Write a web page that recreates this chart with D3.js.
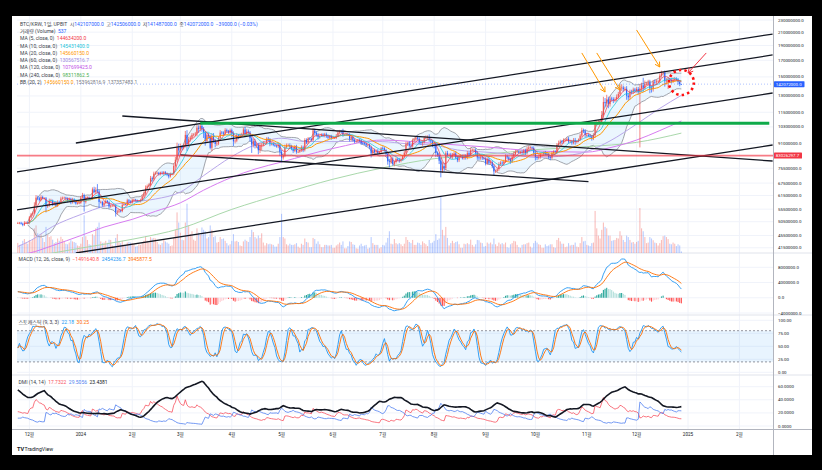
<!DOCTYPE html>
<html>
<head>
<meta charset="utf-8">
<script src="https://cdnjs.cloudflare.com/ajax/libs/d3/7.8.5/d3.min.js"></script>
<style>
  body { margin: 0; background: #000; }
  svg { display: block; font-family: Roboto, "Noto Sans CJK KR", sans-serif; }
</style>
</head>
<body>
<div id="chart"></div>
<script>
// daily closes, million KRW (UPBIT BTC/KRW), one array per month
var c2311 = [50.0, 50.1, 49.7, 49.3, 50.1, 50.2, 50.0];
var c2312 = [52.2, 53.3, 54.0, 57.0, 60.5, 60.2, 59.5, 60.8, 60.2, 60.2, 56.7, 57.1, 59.0, 59.1, 57.6, 58.2, 56.9, 58.6, 58.2, 60.1, 60.4, 60.5, 60.1, 59.1, 60.0, 58.4, 59.7, 58.6, 57.9, 58.0, 58.2];
var c2401 = [60.6, 61.6, 58.6, 60.6, 60.6, 60.3, 60.1, 64.4, 63.2, 63.8, 63.4, 58.6, 58.6, 57.1, 58.2, 59.0, 58.5, 56.6, 57.0, 57.0, 57.0, 54.1, 54.5, 54.9, 54.7, 57.3, 57.7, 57.5, 59.3, 58.8, 58.4];
var c2402 = [59.5, 59.6, 59.3, 58.8, 58.9, 59.5, 61.1, 62.5, 65.0, 66.0, 66.7, 70.0, 69.6, 72.5, 72.8, 72.9, 72.2, 72.9, 72.5, 73.2, 72.5, 71.8, 71.0, 72.2, 72.4, 76.8, 80.4, 88.1, 86.3];
var c2403 = [88.6, 88.0, 89.6, 97.0, 90.6, 93.9, 95.0, 97.0, 97.3, 98.0, 102.4, 101.5, 103.8, 101.4, 98.7, 92.7, 97.1, 96.0, 88.0, 96.4, 93.0, 90.6, 90.9, 94.8, 98.7, 98.6, 98.0, 100.5, 99.7, 98.6, 100.5];
var c2404 = [98.1, 92.4, 92.9, 96.6, 95.6, 97.1, 97.7, 101.0, 97.4, 99.5, 98.7, 94.6, 90.1, 92.6, 89.4, 90.0, 86.4, 89.5, 90.0, 91.5, 91.5, 94.2, 93.6, 90.7, 90.9, 90.0, 89.4, 89.0, 90.0, 85.4];
var c2405 = [81.8, 83.0, 88.4, 89.8, 89.9, 88.8, 87.5, 86.0, 88.7, 85.4, 85.4, 86.4, 88.4, 86.5, 93.2, 91.6, 94.3, 94.1, 93.2, 100.3, 98.5, 97.1, 95.4, 96.2, 97.4, 96.2, 97.5, 96.0, 95.0, 96.1, 94.8];
var c2406 = [94.8, 94.9, 96.3, 98.7, 99.5, 99.1, 97.0, 97.0, 97.4, 97.3, 94.2, 95.5, 93.5, 92.4, 92.7, 93.2, 93.1, 91.3, 91.0, 90.9, 89.7, 90.0, 88.5, 84.4, 86.5, 85.3, 86.1, 84.6, 85.3, 87.8];
var c2407 = [87.7, 86.5, 84.0, 79.5, 79.1, 81.2, 78.0, 79.1, 80.9, 80.5, 79.9, 80.8, 82.6, 84.8, 90.3, 90.8, 89.4, 89.1, 93.0, 93.7, 95.1, 94.3, 91.9, 91.2, 91.8, 94.7, 94.9, 95.3, 93.2, 92.3, 90.1];
var c2408 = [89.9, 84.6, 83.5, 79.9, 74.3, 76.7, 75.5, 84.5, 83.4, 83.6, 82.4, 83.4, 84.4, 81.8, 80.2, 82.1, 82.9, 81.4, 82.9, 81.7, 84.6, 83.5, 86.5, 86.7, 86.7, 84.5, 81.9, 81.4, 81.9, 81.5, 81.2];
var c2409 = [78.3, 80.7, 78.6, 79.1, 76.7, 73.7, 74.0, 74.9, 77.9, 78.7, 78.3, 79.4, 82.6, 81.9, 80.7, 79.5, 82.3, 84.0, 85.3, 85.6, 84.8, 85.2, 84.8, 86.2, 84.6, 87.4, 88.2, 88.3, 87.9, 84.8];
var c2410 = [82.1, 81.8, 82.1, 83.8, 83.8, 84.8, 84.0, 83.8, 82.1, 81.7, 84.6, 85.6, 85.2, 89.9, 91.1, 92.3, 92.0, 93.4, 93.4, 94.2, 92.3, 92.3, 91.4, 93.4, 91.9, 92.5, 93.7, 96.5, 100.3, 99.8, 96.9];
var c2411 = [96.9, 96.7, 95.8, 94.6, 96.8, 105.8, 106.3, 107.1, 107.4, 112.7, 124.2, 123.1, 126.7, 122.2, 127.4, 126.8, 125.7, 126.7, 129.2, 132.0, 137.8, 138.5, 136.8, 137.2, 130.2, 128.7, 134.3, 133.8, 136.5, 135.0];
var c2412 = [137.0, 133.7, 137.5, 140.8, 138.2, 142.4, 142.4, 144.2, 137.5, 136.8, 144.6, 144.2, 145.0, 145.0, 151.4, 154.1, 155.0, 145.3, 146.0, 146.8, 146.5, 145.0, 146.8, 147.5, 147.0, 144.5, 142.111, 142.072];

// upper / lower wick beyond the body, per mille
var uw2311 = [8,6,7,9,12,8,6];
var lw2311 = [7,9,6,10,8,9,7];
var uw2312 = [10,12,9,25,20,15,12,14,10,8, 10,12,18,15,9,8,10,12,9,14, 10,8,7,9,10,8,12,9,8,7, 6];
var lw2312 = [8,9,10,8,12,14,12,9,8,10, 45,12,10,12,14,10,12,9,10,8, 9,7,8,12,7,14,9,10,9,8, 7];
var uw2401 = [10,18,12,9,8,7,6,15,20,25, 40,12,10,8,9,12,8,7,6,5, 6,8,14,12,9,20,8,7,12,10, 9];
var lw2401 = [8,10,70,12,9,8,7,10,12,14, 15,45,12,10,9,10,12,14,10,8, 7,30,35,12,10,9,8,7,10,12, 9];
var uw2402 = [9,8,6,6,7,9,14,15,20,12, 10,18,14,15,12,10,8,9,12,10, 9,8,10,12,8,20,22,35,30];
var lw2402 = [10,9,7,8,8,9,8,10,12,9, 8,10,20,12,10,9,10,9,8,14, 12,10,15,9,8,10,12,18,40];
var uw2403 = [25,15,12,30,60,18,15,14,10,12, 20,18,15,25,15,12,15,14,12,16, 20,12,10,14,18,12,10,15,12,10, 12];
var lw2403 = [30,20,12,15,80,25,18,15,12,14, 20,30,18,20,40,35,15,20,45,25, 18,25,15,12,12,14,15,12,10,9, 10];
var uw2404 = [12,15,12,18,12,10,9,15,20,18, 15,12,15,18,14,12,15,20,15,12, 10,12,14,12,10,8,7,8,12,10];
var lw2404 = [30,35,15,12,18,10,9,12,20,15, 18,25,60,20,20,18,30,20,35,12, 10,12,14,18,12,10,9,10,14,30];
var uw2405 = [15,18,20,12,10,12,14,10,12,15, 9,8,14,12,15,14,12,8,9,18, 15,12,14,10,8,9,10,12,10,9, 10];
var lw2405 = [40,15,12,10,9,14,12,15,10,14, 9,8,12,15,10,12,10,8,9,10, 20,14,18,12,8,9,10,12,10,12, 14];
var uw2406 = [8,7,14,15,12,10,25,7,6,9, 10,14,12,10,7,8,12,10,9,10, 9,6,8,10,14,12,10,12,9,8];
var lw2406 = [7,8,10,9,12,10,14,7,6,9, 20,15,12,14,9,8,12,15,9,10, 12,8,14,30,15,12,14,12,8,9];
var uw2407 = [14,12,10,9,18,14,10,12,12,10, 14,12,10,14,20,14,18,12,15,10, 12,14,10,12,14,15,18,14,22,12, 12];
var lw2407 = [10,12,18,25,50,14,14,18,12,12, 15,12,10,9,12,12,14,15,12,8, 10,12,15,14,20,10,9,10,12,14, 18];
var uw2408 = [15,18,12,15,25,30,25,15,18,10, 14,15,12,18,14,12,9,10,14,12, 15,12,18,10,9,12,14,12,14,12, 10];
var lw2408 = [25,30,15,25,60,20,25,15,12,10, 14,20,14,12,15,14,8,10,12,14, 12,15,10,9,10,14,18,14,12,14, 10];
var uw2409 = [10,15,12,14,12,15,10,9,14,12, 12,14,15,12,9,12,14,18,15,10, 8,9,12,12,14,15,14,9,8,12];
var lw2409 = [15,12,14,12,15,30,12,10,12,14, 18,12,10,12,14,18,12,14,10,9, 8,10,12,12,15,10,12,9,10,18];
var uw2410 = [18,12,14,12,8,9,14,12,12,14, 12,10,9,15,20,14,12,12,8,10, 14,12,12,14,15,9,8,14,20,14, 15];
var lw2410 = [25,18,14,12,8,9,12,12,15,18, 10,10,9,10,15,14,15,12,8,9, 14,12,15,12,20,10,8,10,12,14, 18];
var uw2411 = [14,12,10,12,15,25,15,14,10,30, 40,30,35,20,18,14,15,16,18,15, 20,25,14,15,20,18,15,14,14,12];
var lw2411 = [15,14,15,18,14,20,15,12,10,12, 20,30,25,30,18,15,20,14,16,14, 15,20,18,15,30,25,15,18,12,14];
var uw2412 = [14,15,30,20,50,25,15,18,18,20, 14,18,15,12,18,20,22,15,18,20, 15,14,18,15,14,12,15,0];
var lw2412 = [12,18,0,25,30,15,12,14,35,25, 18,14,15,10,12,15,18,40,25,0, 14,15,12,14,12,20,15,0];

// daily volume, thousand BTC
var v2311 = [3.5, 2.8, 3.0, 4.2, 4.8, 3.6, 3.2];
var v2312 = [4.5, 4.0, 4.8, 8.5, 9.5, 6.8, 6.0, 6.5, 5.2, 3.8, 9.0, 6.2, 5.5, 5.8, 4.6, 3.4, 3.8, 5.0, 4.2, 5.6, 4.8, 4.0, 3.2, 3.0, 3.6, 4.4, 4.0, 3.8, 3.5, 2.6, 2.4];
var v2401 = [3.2, 5.5, 13.0, 5.8, 4.5, 3.0, 2.8, 6.5, 6.0, 8.5, 9.0, 10.5, 4.0, 3.5, 3.6, 4.2, 3.5, 4.6, 4.5, 2.6, 2.4, 5.2, 6.5, 4.0, 3.4, 4.2, 2.8, 2.6, 3.6, 3.8, 3.6];
var v2402 = [3.4, 3.0, 2.2, 2.4, 3.0, 2.8, 3.4, 4.2, 5.8, 4.2, 3.6, 5.5, 5.0, 5.2, 5.0, 3.8, 3.0, 2.8, 3.4, 4.6, 4.0, 3.6, 3.2, 2.4, 2.6, 5.4, 8.0, 14.0, 10.5];
var v2403 = [7.0, 4.6, 4.4, 10.5, 17.0, 9.5, 6.5, 7.5, 4.6, 4.2, 8.5, 7.0, 6.2, 8.8, 8.0, 7.5, 5.0, 5.5, 9.5, 8.0, 5.5, 5.8, 3.6, 3.8, 5.5, 4.8, 5.0, 4.2, 3.4, 2.6, 3.0];
var v2404 = [4.2, 6.5, 4.0, 4.2, 3.8, 2.6, 2.4, 4.0, 4.6, 4.2, 3.8, 5.5, 8.0, 7.2, 5.5, 5.0, 6.0, 5.2, 6.8, 3.6, 2.6, 3.4, 3.0, 3.2, 3.0, 2.8, 2.2, 2.2, 3.2, 5.5];
var v2405 = [13.5, 5.5, 5.0, 3.0, 2.6, 3.2, 2.8, 2.8, 3.0, 3.4, 2.2, 1.8, 3.2, 2.8, 5.0, 3.8, 3.6, 2.0, 2.0, 5.2, 4.8, 3.2, 4.0, 3.0, 2.0, 2.0, 2.8, 2.8, 2.6, 2.6, 2.8];
var v2406 = [1.8, 1.8, 2.6, 3.0, 3.6, 2.8, 4.0, 1.6, 1.6, 2.4, 4.0, 3.8, 3.0, 2.8, 1.6, 1.5, 2.6, 3.2, 2.4, 2.6, 2.8, 1.5, 1.8, 5.5, 3.4, 2.8, 2.8, 2.8, 1.6, 2.0];
var v2407 = [2.8, 2.6, 3.6, 5.2, 7.5, 3.2, 3.0, 4.8, 3.4, 3.0, 3.4, 3.0, 2.4, 3.2, 5.5, 4.5, 3.8, 3.4, 4.5, 2.8, 2.8, 3.6, 3.4, 2.8, 4.0, 3.4, 3.0, 2.4, 4.5, 3.4, 3.6];
var v2408 = [4.2, 6.5, 4.5, 5.0, 19.5, 8.0, 6.0, 9.0, 5.2, 2.6, 3.4, 4.2, 3.4, 3.8, 4.0, 3.0, 1.8, 1.8, 3.2, 3.0, 3.4, 3.0, 4.6, 2.8, 2.2, 3.0, 4.5, 4.4, 3.6, 3.4, 2.2];
var v2409 = [2.4, 3.6, 3.2, 3.6, 3.0, 5.0, 3.0, 2.4, 3.6, 3.0, 3.4, 3.0, 3.6, 2.0, 1.8, 3.0, 3.4, 4.2, 4.0, 2.8, 2.0, 1.8, 2.8, 3.0, 3.0, 3.4, 3.6, 2.2, 1.8, 3.4];
var v2410 = [4.2, 3.6, 3.0, 2.8, 1.8, 1.8, 3.0, 2.4, 2.6, 3.0, 3.0, 2.0, 1.8, 4.5, 5.2, 4.0, 3.2, 3.2, 2.0, 2.2, 3.4, 2.6, 2.8, 2.8, 3.6, 2.2, 2.0, 3.4, 5.5, 4.0, 4.2];
var v2411 = [2.8, 2.6, 2.4, 3.4, 3.6, 14.5, 8.5, 6.0, 5.0, 8.0, 10.5, 9.0, 8.5, 6.0, 6.0, 4.2, 4.4, 4.5, 5.2, 5.0, 7.5, 6.0, 4.5, 3.8, 6.0, 5.5, 4.5, 3.6, 3.8, 3.2];
var v2412 = [3.8, 4.2, 15.5, 8.5, 7.5, 5.5, 3.4, 3.6, 5.5, 5.0, 4.4, 3.6, 3.4, 2.6, 3.4, 4.5, 5.8, 6.0, 5.5, 4.8, 3.2, 3.0, 3.6, 3.2, 2.4, 3.0, 2.6, 0.537];

var monthStarts = ["2023-11-24","2023-12-01","2024-01-01","2024-02-01","2024-03-01","2024-04-01","2024-05-01",
                   "2024-06-01","2024-07-01","2024-08-01","2024-09-01","2024-10-01","2024-11-01","2024-12-01"];
var closeMonths = [c2311,c2312,c2401,c2402,c2403,c2404,c2405,c2406,c2407,c2408,c2409,c2410,c2411,c2412];
var upMonths = [uw2311,uw2312,uw2401,uw2402,uw2403,uw2404,uw2405,uw2406,uw2407,uw2408,uw2409,uw2410,uw2411,uw2412];
var loMonths = [lw2311,lw2312,lw2401,lw2402,lw2403,lw2404,lw2405,lw2406,lw2407,lw2408,lw2409,lw2410,lw2411,lw2412];
var volMonths = [v2311,v2312,v2401,v2402,v2403,v2404,v2405,v2406,v2407,v2408,v2409,v2410,v2411,v2412];

// exact extremes where read: [date, high, low, open]
var wicks = [
  ["2024-01-11", 67.0, null], ["2024-01-23", null, 53.2], ["2024-02-28", 91.5, null],
  ["2024-03-05", 100.5, 86.0], ["2024-03-14", 105.9, null], ["2024-03-19", null, 87.0],
  ["2024-05-01", null, 79.0], ["2024-07-05", null, 76.0], ["2024-08-05", null, 70.5],
  ["2024-09-06", null, 71.5], ["2024-12-03", null, 88.27], ["2024-12-05", 149.0, null],
  ["2024-12-17", 156.5, null], ["2024-12-20", null, 137.0],
  ["2024-12-28", 142.506, 141.487, 142.107]
];

// indicator values at the left edge
var macdStart = [1650000, 1550000];   // MACD, signal
var dmiStart = [22, 12, 55];          // +DI, -DI, ADX

// long moving averages
var ma60Pts = [["2023-11-24",41.9],["2023-12-01",43.6],["2023-12-15",48.7],["2024-01-01",53.3],["2024-01-15",56.7],
  ["2024-02-01",58.6],["2024-02-15",59.9],["2024-03-01",63.1],["2024-03-15",71.4],["2024-04-01",82.4],["2024-04-15",90.0],
  ["2024-05-01",94.6],["2024-05-15",92.3],["2024-06-01",92.2],["2024-06-15",92.4],["2024-07-01",92.2],["2024-07-15",90.8],
  ["2024-08-01",89.8],["2024-08-15",86.6],["2024-09-01",85.2],["2024-09-15",84.0],["2024-10-01",81.9],["2024-10-15",82.5],
  ["2024-11-01",85.6],["2024-11-15",92.7],["2024-12-01",105.2],["2024-12-15",118.4],["2024-12-28",130.6]];
var ma120Pts = [["2023-11-24",39.3],["2023-12-01",39.9],["2023-12-15",42.2],["2024-01-01",45.5],["2024-01-15",48.5],
  ["2024-02-01",51.4],["2024-02-15",54.6],["2024-03-01",58.2],["2024-03-15",64.0],["2024-04-01",70.5],["2024-04-15",75.0],
  ["2024-05-01",79.1],["2024-06-01",87.6],["2024-07-01",93.3],["2024-08-01",91.0],["2024-09-01",88.6],["2024-10-01",86.0],
  ["2024-11-01",85.2],["2024-11-15",88.1],["2024-12-01",93.3],["2024-12-15",100.2],["2024-12-28",107.7]];
var ma240Pts = [["2023-11-24",38.4],["2023-12-15",39.9],["2024-01-01",41.4],["2024-02-01",44.25],["2024-03-01",47.97],
  ["2024-04-01",55.4],["2024-05-01",62.2],["2024-06-01",69.5],["2024-07-01",75.7],["2024-08-01",81.1],["2024-09-01",83.8],
  ["2024-10-01",86.8],["2024-11-01",88.8],["2024-12-01",91.7],["2024-12-28",98.3]];

// axes
var priceTicks = [230, 210, 190, 170, 150, 130, 115, 103, 91, 75.5, 67.5, 61.5, 55.5, 50.5, 45.5, 41.5];
var macdTicks = [8000000, 4000000, 0, -4000000];
var stochTicks = [100, 75, 50, 25, 0];
var dmiTicks = [60, 40, 20, 0];
var timeTicks = ["2023-12-01","2024-01-01","2024-02-01","2024-03-01","2024-04-01","2024-05-01","2024-06-01","2024-07-01",
                 "2024-08-01","2024-09-01","2024-10-01","2024-11-01","2024-12-01","2025-01-01","2025-02-01"];
var timeLabels = ["12월","2024","2월","3월","4월","5월","6월","7월","8월","9월","10월","11월","12월","2025","2월"];

// drawings: [date1, price1, date2, price2]
var trendLines = [
  ["2023-12-29", 91.25, "2025-02-21", 207.1],
  ["2023-11-23", 73.4, "2025-02-21", 176.9],
  ["2023-11-23", 55.15, "2025-02-21", 132.9],
  ["2023-12-29", 39.92, "2025-02-21", 89.9],
  ["2024-01-26", 111.8, "2025-02-21", 79.7],
  ["2024-03-01", 83.4, "2024-11-02", 68.3]
];
var greenLine = ["2024-03-13", "2025-02-19", 105.85];
var redLevel = 83.0262977;
var orangeArrows = [
  ["2024-10-29", 179.6, "2024-11-12", 133.9],
  ["2024-11-07", 179.6, "2024-11-21", 135.96],
  ["2024-12-01", 213.5, "2024-12-15", 161.6]
];
var redArrow = ["2025-01-12", 179.6, "2025-01-01", 154.5];
var circleMark = ["2024-12-28", 143.9];
var lastClose = 142.072;

// legends
var legendMain = [
  [["BTC/KRW, 1일, UPBIT  ","t"],["시","t"],["142107000.0","dn"],["  고","t"],["142506000.0","dn"],["  저","t"],["141487000.0","dn"],["  종","t"],["142072000.0","dn"],["  −39000.0 (−0.03%)","dn"]],
  [["거래량 (Volume)  ","t"],["537","dn"]],
  [["MA (5, close, 0)  ","t"],["144634200.0","ma5"]],
  [["MA (10, close, 0)  ","t"],["145431400.0","ma10"]],
  [["MA (20, close, 0)  ","t"],["145660150.0","ma20"]],
  [["MA (60, close, 0)  ","t"],["130567516.7","ma60t"]],
  [["MA (120, close, 0)  ","t"],["107699425.0","ma120t"]],
  [["MA (240, close, 0)  ","t"],["98311862.5","ma240t"]],
  [["BB (20, 2)  ","t"],["145660150.0","ma20"],["  153962816.9  137357483.1","g"]]
];
var legendMacd = [["MACD (12, 26, close, 9)  ","t"],["−1491640.8","hist"],["  2454236.7","macd"],["  3945877.5","sig"]];
var legendStoch = [["스토캐스틱 (9, 3, 3)  ","t"],["22.18","k"],["  30.25","sig"]];
var legendDmi = [["DMI (14, 14)  ","t"],["17.7322","pdi"],["  29.5056","mdi"],["  23.4381","adx"]];

var col = {t:"#3b3f4a", g:"#787b86", up:"#ef5350", dn:"#2962ff", ma5:"#f23645", ma10:"#26c6da", ma20:"#ff9800",
  ma60:"#b9a7ea", ma60t:"#9c8ae0", ma120:"#d77cf0", ma120t:"#c04ee6", ma240:"#a9d8ab", ma240t:"#4caf50",
  hist:"#ff5252", macd:"#2196f3", sig:"#ff6d00", k:"#2196f3", pdi:"#f7525f", mdi:"#4f7ff0", adx:"#131722"};

// ---- build bars ----
var parse = d3.utcParse("%Y-%m-%d");
var fmtDay = d3.utcFormat("%Y-%m-%d");
var bars = [];
closeMonths.forEach(function(arr, m) {
  var start = parse(monthStarts[m]);
  arr.forEach(function(c, j) {
    bars.push({date: d3.utcDay.offset(start, j), close: c, vol: volMonths[m][j],
               uw: upMonths[m][j], lw: loMonths[m][j]});
  });
});
bars.forEach(function(d, i) {
  d.open = i ? bars[i - 1].close : d.close;
  d.high = Math.max(d.open, d.close) * (1 + d.uw / 1000);
  d.low = Math.min(d.open, d.close) * (1 - d.lw / 1000);
});
var byDate = {};
bars.forEach(function(d) { byDate[fmtDay(d.date)] = d; });
wicks.forEach(function(w) {
  var d = byDate[w[0]];
  if (!d) return;
  if (w[3] != null) d.open = w[3];
  if (w[1] != null) d.high = w[1];
  if (w[2] != null) d.low = w[2];
  d.high = Math.max(d.high, d.open, d.close);
  d.low = Math.min(d.low, d.open, d.close);
});

var closes = bars.map(function(d) { return d.close; });
function sma(vals, n, i) {
  var s = 0, k = 0;
  for (var j = Math.max(0, i - n + 1); j <= i; j++) { s += vals[j]; k++; }
  return s / k;
}
function ema(vals, n, seed) {
  var a = 2 / (n + 1), e = seed;
  return vals.map(function(v, i) { if (i > 0) e = a * v + (1 - a) * e; return e; });
}
function rma(vals, n, seed) {
  var s = seed;
  return vals.map(function(v, i) { if (i > 0) s = (s * (n - 1) + v) / n; return s; });
}

bars.forEach(function(d, i) {
  d.ma5 = i >= 4 ? sma(closes, 5, i) : null;
  d.ma10 = i >= 6 ? sma(closes, 10, i) : null;
  if (i >= 6) {
    var w = closes.slice(Math.max(0, i - 19), i + 1), m = d3.mean(w);
    var sd = Math.sqrt(d3.mean(w, function(v) { return (v - m) * (v - m); }));
    d.ma20 = m; d.bbU = m + 2 * sd; d.bbL = m - 2 * sd;
  } else { d.ma20 = null; }
});

// MACD 12/26/9 (KRW), started from the values shown at the left edge
var e12 = ema(closes, 12, closes[0]);
var e26 = ema(closes, 26, closes[0] - macdStart[0] / 1e6);
var macd = closes.map(function(c, i) { return (e12[i] - e26[i]) * 1e6; });
var sig = ema(macd, 9, macdStart[1]);
bars.forEach(function(d, i) { d.macd = macd[i]; d.sig = sig[i]; d.hist = macd[i] - sig[i]; });

// Stochastic 9/3/3
var rawK = bars.map(function(d, i) {
  var w = bars.slice(Math.max(0, i - 8), i + 1);
  var lo = d3.min(w, function(b) { return b.low; }), hi = d3.max(w, function(b) { return b.high; });
  return hi > lo ? (d.close - lo) / (hi - lo) * 100 : 50;
});
var stK = rawK.map(function(v, i) { return sma(rawK, 3, i); });
var stD = stK.map(function(v, i) { return sma(stK, 3, i); });
bars.forEach(function(d, i) { d.k = stK[i]; d.d = stD[i]; });

// DMI 14/14
var pdm = [0], mdm = [0], tr = [bars[0].high - bars[0].low];
for (var i = 1; i < bars.length; i++) {
  var b = bars[i], p = bars[i - 1];
  var upM = b.high - p.high, dnM = p.low - b.low;
  pdm.push(upM > dnM && upM > 0 ? upM : 0);
  mdm.push(dnM > upM && dnM > 0 ? dnM : 0);
  tr.push(Math.max(b.high - b.low, Math.abs(b.high - p.close), Math.abs(b.low - p.close)));
}
var trSeed = d3.mean(tr.slice(1, 15));
var rTr = rma(tr, 14, trSeed), rP = rma(pdm, 14, trSeed * dmiStart[0] / 100), rM = rma(mdm, 14, trSeed * dmiStart[1] / 100);
var dx = bars.map(function(d, i) {
  var pp = 100 * rP[i] / rTr[i], mm = 100 * rM[i] / rTr[i];
  d.pdi = pp; d.mdi = mm;
  return pp + mm > 0 ? 100 * Math.abs(pp - mm) / (pp + mm) : 0;
});
var adx = rma(dx, 14, dmiStart[2]);
bars.forEach(function(d, i) { d.adx = adx[i]; });

// ---- scales ----
var L = 17, R = 773;
var x = d3.scaleUtc().domain([parse("2023-12-01"), parse("2025-01-01")]).range([29.4, 688]);
var y = d3.scaleLog().domain([41.5, 230]).range([247.8, 20.07]);
var yVol = d3.scaleLinear().domain([0, 20]).range([253, 195]);
var yMacd = d3.scaleLinear().domain([-4000000, 8000000]).range([313, 267.3]);
var yStoch = d3.scaleLinear().domain([0, 100]).range([372.3, 320.3]);
var yDmi = d3.scaleLinear().domain([0, 60]).range([426, 386.7]);
var panes = {main: [16, 253], macd: [253, 315], stoch: [315, 375], dmi: [375, 429]};

var svg = d3.select("#chart").append("svg").attr("width", 822).attr("height", 470);
svg.append("rect").attr("width", 822).attr("height", 470).attr("fill", "#000");
svg.append("rect").attr("x", 12).attr("y", 16).attr("width", 800).attr("height", 439).attr("fill", "#fff");

var defs = svg.append("defs");
Object.keys(panes).forEach(function(k) {
  defs.append("clipPath").attr("id", "clip-" + k).append("rect")
    .attr("x", L).attr("y", panes[k][0]).attr("width", R - L).attr("height", panes[k][1] - panes[k][0]);
});

// grid
var grid = svg.append("g").attr("stroke", "#f0f3fa").attr("stroke-width", 1);
timeTicks.forEach(function(t) {
  grid.append("line").attr("x1", x(parse(t))).attr("x2", x(parse(t))).attr("y1", 16).attr("y2", 429);
});
function hGrid(ticks, sc) {
  ticks.forEach(function(v) { grid.append("line").attr("x1", L).attr("x2", R).attr("y1", sc(v)).attr("y2", sc(v)); });
}
hGrid(priceTicks, y); hGrid(macdTicks, yMacd); hGrid(stochTicks, yStoch); hGrid(dmiTicks, yDmi);

// pane separators and axes lines
[253, 315, 375].forEach(function(v) {
  svg.append("line").attr("x1", 12).attr("x2", 812).attr("y1", v).attr("y2", v).attr("stroke", "#e0e3eb").attr("stroke-width", 1);
});
svg.append("line").attr("x1", 12).attr("x2", 812).attr("y1", 429.5).attr("y2", 429.5).attr("stroke", "#b2b5be");
svg.append("line").attr("x1", R + 0.5).attr("x2", R + 0.5).attr("y1", 16).attr("y2", 455).attr("stroke", "#b2b5be");

// ---- main pane ----
var gMain = svg.append("g").attr("clip-path", "url(#clip-main)");
var cw = 1.1;
gMain.selectAll(".vol").data(bars).enter().append("rect")
  .attr("x", function(d) { return x(d.date) - cw / 2; }).attr("width", cw)
  .attr("y", function(d) { return yVol(d.vol); })
  .attr("height", function(d) { return yVol(0) - yVol(d.vol); })
  .attr("fill", function(d) { return d.close >= d.open ? "rgba(239,83,80,0.38)" : "rgba(41,98,255,0.32)"; });

var bb = bars.filter(function(d) { return d.ma20 != null; });
gMain.append("path").datum(bb)
  .attr("d", d3.area().x(function(d) { return x(d.date); }).y0(function(d) { return y(d.bbL); }).y1(function(d) { return y(d.bbU); }))
  .attr("fill", "rgba(33,150,243,0.09)");
["bbU", "bbL"].forEach(function(k) {
  gMain.append("path").datum(bb)
    .attr("d", d3.line().x(function(d) { return x(d.date); }).y(function(d) { return y(d[k]); }))
    .attr("fill", "none").attr("stroke", "#8a8d96").attr("stroke-width", 0.8);
});

function ptsLine(pts, color) {
  gMain.append("path").datum(pts)
    .attr("d", d3.line().curve(d3.curveMonotoneX).x(function(p) { return x(parse(p[0])); }).y(function(p) { return y(p[1]); }))
    .attr("fill", "none").attr("stroke", color).attr("stroke-width", 1);
}
ptsLine(ma240Pts, col.ma240); ptsLine(ma120Pts, col.ma120); ptsLine(ma60Pts, col.ma60);

function maLine(key, color, w) {
  gMain.append("path").datum(bars)
    .attr("d", d3.line().defined(function(d) { return d[key] != null; }).x(function(d) { return x(d.date); }).y(function(d) { return y(d[key]); }))
    .attr("fill", "none").attr("stroke", color).attr("stroke-width", w);
}

gMain.selectAll(".wick").data(bars).enter().append("line")
  .attr("x1", function(d) { return x(d.date); }).attr("x2", function(d) { return x(d.date); })
  .attr("y1", function(d) { return y(d.high); }).attr("y2", function(d) { return y(d.low); })
  .attr("stroke", function(d) { return d.close >= d.open ? col.up : col.dn; }).attr("stroke-width", 0.7);
gMain.selectAll(".body").data(bars).enter().append("rect")
  .attr("x", function(d) { return x(d.date) - cw / 2; }).attr("width", cw)
  .attr("y", function(d) { return y(Math.max(d.open, d.close)); })
  .attr("height", function(d) { return Math.max(0.7, y(Math.min(d.open, d.close)) - y(Math.max(d.open, d.close))); })
  .attr("fill", function(d) { return d.close >= d.open ? col.up : col.dn; });

maLine("ma20", col.ma20, 1);
maLine("ma10", col.ma10, 0.8);
maLine("ma5", col.ma5, 0.7);

// drawings
var gAnn = gMain.append("g");
trendLines.forEach(function(t) {
  gAnn.append("line").attr("x1", x(parse(t[0]))).attr("y1", y(t[1])).attr("x2", x(parse(t[2]))).attr("y2", y(t[3]))
    .attr("stroke", "#131722").attr("stroke-width", 1.3);
});
gAnn.append("line").attr("x1", x(parse(greenLine[0]))).attr("x2", x(parse(greenLine[1])))
  .attr("y1", y(greenLine[2])).attr("y2", y(greenLine[2])).attr("stroke", "#0eaa4a").attr("stroke-width", 3);
gAnn.append("line").attr("x1", L).attr("x2", R).attr("y1", y(redLevel)).attr("y2", y(redLevel))
  .attr("stroke", "#f23645").attr("stroke-opacity", 0.65).attr("stroke-width", 1.6);
gAnn.append("line").attr("x1", L).attr("x2", R).attr("y1", y(lastClose)).attr("y2", y(lastClose))
  .attr("stroke", "#2962ff").attr("stroke-opacity", 0.55).attr("stroke-width", 0.7).attr("stroke-dasharray", "1 2");

function arrow(a, color) {
  var x1 = x(parse(a[0])), y1 = y(a[1]), x2 = x(parse(a[2])), y2 = y(a[3]);
  gAnn.append("line").attr("x1", x1).attr("y1", y1).attr("x2", x2).attr("y2", y2).attr("stroke", color).attr("stroke-width", 1);
  var ang = Math.atan2(y1 - y2, x1 - x2);
  [ang - 0.5, ang + 0.5].forEach(function(b) {
    gAnn.append("line").attr("x1", x2).attr("y1", y2).attr("x2", x2 + 5.5 * Math.cos(b)).attr("y2", y2 + 5.5 * Math.sin(b))
      .attr("stroke", color).attr("stroke-width", 1);
  });
}
orangeArrows.forEach(function(a) { arrow(a, "#ff9800"); });
arrow(redArrow, "#f23645");
gAnn.append("circle").attr("cx", x(parse(circleMark[0]))).attr("cy", y(circleMark[1])).attr("r", 12.5)
  .attr("fill", "none").attr("stroke", "#ff1010").attr("stroke-width", 2.6).attr("stroke-dasharray", "2.4 3.2");

// ---- MACD pane ----
var gMacd = svg.append("g").attr("clip-path", "url(#clip-macd)");
gMacd.selectAll("rect").data(bars).enter().append("rect")
  .attr("x", function(d) { return x(d.date) - cw / 2; }).attr("width", cw)
  .attr("y", function(d) { return Math.min(yMacd(0), yMacd(d.hist)); })
  .attr("height", function(d) { return Math.abs(yMacd(d.hist) - yMacd(0)); })
  .attr("fill", function(d, i) {
    var prev = i ? bars[i - 1].hist : d.hist;
    if (d.hist >= 0) return prev < d.hist ? "#26a69a" : "#b2dfdb";
    return prev < d.hist ? "#ffcdd2" : "#ff5252";
  });
function paneLine(g, key, sc, color, w) {
  g.append("path").datum(bars)
    .attr("d", d3.line().defined(function(d) { return d[key] != null; }).x(function(d) { return x(d.date); }).y(function(d) { return sc(d[key]); }))
    .attr("fill", "none").attr("stroke", color).attr("stroke-width", w);
}
paneLine(gMacd, "macd", yMacd, col.macd, 0.9);
paneLine(gMacd, "sig", yMacd, col.sig, 0.9);

// ---- Stochastic pane ----
var gSt = svg.append("g").attr("clip-path", "url(#clip-stoch)");
gSt.append("rect").attr("x", L).attr("width", R - L).attr("y", yStoch(80)).attr("height", yStoch(20) - yStoch(80))
  .attr("fill", "rgba(33,150,243,0.1)");
[80, 20].forEach(function(v) {
  gSt.append("line").attr("x1", L).attr("x2", R).attr("y1", yStoch(v)).attr("y2", yStoch(v))
    .attr("stroke", "#787b86").attr("stroke-width", 0.8).attr("stroke-dasharray", "2 2");
});
paneLine(gSt, "k", yStoch, col.k, 0.9);
paneLine(gSt, "d", yStoch, col.sig, 0.9);

// ---- DMI pane ----
var gDmi = svg.append("g").attr("clip-path", "url(#clip-dmi)");
paneLine(gDmi, "pdi", yDmi, col.pdi, 0.8);
paneLine(gDmi, "mdi", yDmi, col.mdi, 0.8);
paneLine(gDmi, "adx", yDmi, col.adx, 1.6);

// ---- right axis labels ----
var axG = svg.append("g").attr("font-size", 4.4).attr("fill", "#131722");
function axisLabels(ticks, sc, fmt) {
  ticks.forEach(function(v) { axG.append("text").attr("x", 778).attr("y", sc(v) + 1.5).text(fmt(v)); });
}
axisLabels(priceTicks, y, function(v) { return (v * 1e6).toFixed(1); });
axisLabels(macdTicks, yMacd, function(v) { return (v < 0 ? "−" : "") + Math.abs(v).toFixed(1); });
axisLabels(stochTicks, yStoch, function(v) { return v.toFixed(2); });
axisLabels(dmiTicks, yDmi, function(v) { return v.toFixed(4); });

function priceTag(v, color) {
  var t = (v * 1e6).toFixed(1), yy = y(v);
  svg.append("rect").attr("x", 774).attr("y", yy - 3).attr("width", t.length * 2.5 + 3).attr("height", 6).attr("fill", color).attr("rx", 0.6);
  svg.append("text").attr("x", 775.8).attr("y", yy + 1.6).attr("font-size", 4.4).attr("fill", "#fff").text(t);
}
priceTag(lastClose, "#2962ff");
priceTag(redLevel, "#f23645");

// ---- time axis ----
var tG = svg.append("g").attr("font-size", 4.6).attr("fill", "#131722").attr("text-anchor", "middle");
timeTicks.forEach(function(t, i) { tG.append("text").attr("x", x(parse(t))).attr("y", 436).text(timeLabels[i]); });

// ---- legends ----
function legendLine(parts, x0, yy) {
  var t = svg.append("text").attr("x", x0).attr("y", yy).attr("font-size", 5).style("white-space", "pre");
  parts.forEach(function(p) { t.append("tspan").attr("fill", col[p[1]]).text(p[0]); });
}
legendMain.forEach(function(parts, i) { legendLine(parts, 20, 25.8 + i * 7.25); });
legendLine(legendMacd, 18.5, 261);
legendLine(legendStoch, 18.5, 323.5);
legendLine(legendDmi, 18.5, 383.5);

// TradingView mark
svg.append("text").attr("x", 17).attr("y", 450.5).attr("font-size", 5.6).attr("font-weight", 700).attr("fill", "#131722").text("TV");
svg.append("text").attr("x", 24.5).attr("y", 450.5).attr("font-size", 5.2).attr("fill", "#131722").text("TradingView");
</script>
</body>
</html>
